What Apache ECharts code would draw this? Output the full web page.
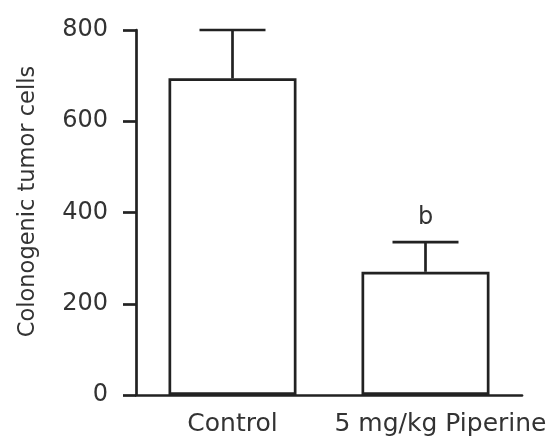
<!DOCTYPE html>
<html><head><meta charset="utf-8">
<script src="https://cdn.jsdelivr.net/npm/echarts@6/dist/echarts.min.js"></script>
<style>html,body{margin:0;padding:0;background:#fff}#c{width:551px;height:441px}</style>
</head><body><div id="c"></div>
<script>
var categories = ['Control', '5 mg/kg Piperine'];
var means = [694, 270];
var errorTops = [800, 335];
var annotations = ['', 'b'];
var yTicks = [0, 200, 400, 600, 800];

var ink = '#222';
var txt = '#333';
var font = 'DejaVu Sans';
var lw = 2.7;
var labelPad = [[0,0,0,0],[0,0,0,30]];

var chart = echarts.init(document.getElementById('c'));
chart.setOption({
  animation: false,
  grid: {left: 136, right: 29, top: 30, bottom: 46, containLabel: false},
  xAxis: {
    type: 'category',
    data: categories.map(function(c, i){ return {value: c, textStyle: {padding: labelPad[i]}}; }),
    axisLine: {lineStyle: {color: ink, width: lw}},
    axisTick: {show: false},
    axisLabel: {color: txt, fontFamily: font, fontSize: 25, margin: 17, interval: 0, hideOverlap: false, overflow: 'none'}
  },
  yAxis: {
    type: 'value', min: yTicks[0], max: yTicks[yTicks.length-1], interval: 200,
    name: 'Colonogenic tumor cells', nameLocation: 'middle', nameGap: 96,
    nameTextStyle: {color: txt, fontFamily: font, fontSize: 22.5, padding: [0,0,0,22]},
    splitLine: {show: false},
    axisLine: {show: true, lineStyle: {color: ink, width: lw}},
    axisTick: {show: true, inside: false, length: 13, lineStyle: {color: ink, width: lw}},
    axisLabel: {color: txt, fontFamily: font, fontSize: 24, margin: 28}
  },
  series: [
    {
      type: 'bar', data: means, barWidth: 128,
      itemStyle: {color: '#fff', borderColor: ink, borderWidth: lw}
    },
    {
      type: 'custom',
      data: categories.map(function(c, i){ return [i, means[i], errorTops[i]]; }),
      renderItem: function(params, api){
        var i = api.value(0);
        var base = api.coord([i, api.value(1)]);
        var top = api.coord([i, api.value(2)]);
        var half = 33;
        var children = [
          {type: 'line', shape: {x1: base[0], y1: base[1], x2: top[0], y2: top[1]}, style: {stroke: ink, lineWidth: lw}},
          {type: 'line', shape: {x1: top[0]-half, y1: top[1], x2: top[0]+half, y2: top[1]}, style: {stroke: ink, lineWidth: lw}}
        ];
        var a = annotations[params.dataIndex];
        if (a) {
          children.push({type: 'text', style: {text: a, x: top[0], y: top[1]-12, align: 'center', verticalAlign: 'bottom', fill: txt, font: '24px "DejaVu Sans"'}});
        }
        return {type: 'group', children: children};
      },
      z: 5
    }
  ]
});
</script></body></html>
